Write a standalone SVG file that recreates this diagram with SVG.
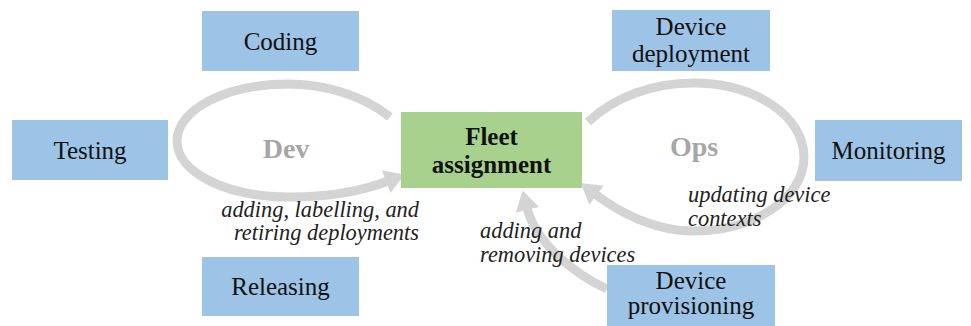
<svg xmlns="http://www.w3.org/2000/svg" width="971" height="326" viewBox="0 0 971 326">
<style>
.blue{fill:#9dc3e6}
.green{fill:#a9d18e}
.lbl{font-size:25px;fill:#111;text-anchor:middle}
.bold{font-weight:bold}
.cyc{font-size:28px;font-weight:bold;fill:#a6a6a6;text-anchor:middle}
.it{font-size:22.4px;font-style:italic;fill:#222}
.arc{fill:none;stroke:#d4d4d4;stroke-width:9;marker-end:url(#ah)}
</style>
<defs>
<marker id="ah" markerUnits="userSpaceOnUse" viewBox="0 0 20 24" markerWidth="20" markerHeight="24" refX="2" refY="12" orient="auto">
<path d="M0,0 L20,12 L0,24 z" fill="#d4d4d4"/>
</marker>
</defs>
<g id="connectors">
<path class="arc" d="M390,117 C360,93 320,84 288,84 C225,84 177,110 177,141 C177,172 225,197 290,197 C330,197 362,191 388,181"/>
<path class="arc" d="M588,122 C615,96 655,83 693,83 C755,83 804,116 804,157 C804,198 755,231 693,231 C655,231 620,213 595,194"/>
<path class="arc" d="M607,289 C570,272 535,240 527,208"/>
</g>
<g font-family="Liberation Serif, serif">
<g id="dev-label"><text class="cyc" x="286" y="158">Dev</text></g>
<g id="ops-label"><text class="cyc" x="694" y="156">Ops</text></g>
<g id="coding"><rect class="blue" x="202" y="11" width="157" height="60"/><text class="lbl" x="280.5" y="50">Coding</text></g>
<g id="device-deployment"><rect class="blue" x="612" y="10" width="158" height="61"/><text class="lbl" x="691" y="35">Device</text><text class="lbl" x="691" y="62">deployment</text></g>
<g id="testing"><rect class="blue" x="12" y="120" width="156" height="60"/><text class="lbl" x="90" y="159">Testing</text></g>
<g id="monitoring"><rect class="blue" x="815" y="120" width="147" height="61"/><text class="lbl" x="888.5" y="159">Monitoring</text></g>
<g id="fleet-assignment"><rect class="green" x="401" y="112" width="181" height="76"/><text class="lbl bold" x="491.5" y="145">Fleet</text><text class="lbl bold" x="491.5" y="173">assignment</text></g>
<g id="releasing"><rect class="blue" x="202" y="257" width="157" height="59"/><text class="lbl" x="280.5" y="295">Releasing</text></g>
<g id="device-provisioning"><rect class="blue" x="607" y="265" width="168" height="61"/><text class="lbl" x="691" y="289">Device</text><text class="lbl" x="691" y="314">provisioning</text></g>
<g id="edge-labels">
<text class="it" x="419" y="217" text-anchor="end">adding, labelling, and</text>
<text class="it" x="419" y="240" text-anchor="end">retiring deployments</text>
<text class="it" x="480" y="238">adding and</text>
<text class="it" x="480" y="262">removing devices</text>
<text class="it" x="688" y="202">updating device</text>
<text class="it" x="688" y="226">contexts</text>
</g>
</g>
</svg>
